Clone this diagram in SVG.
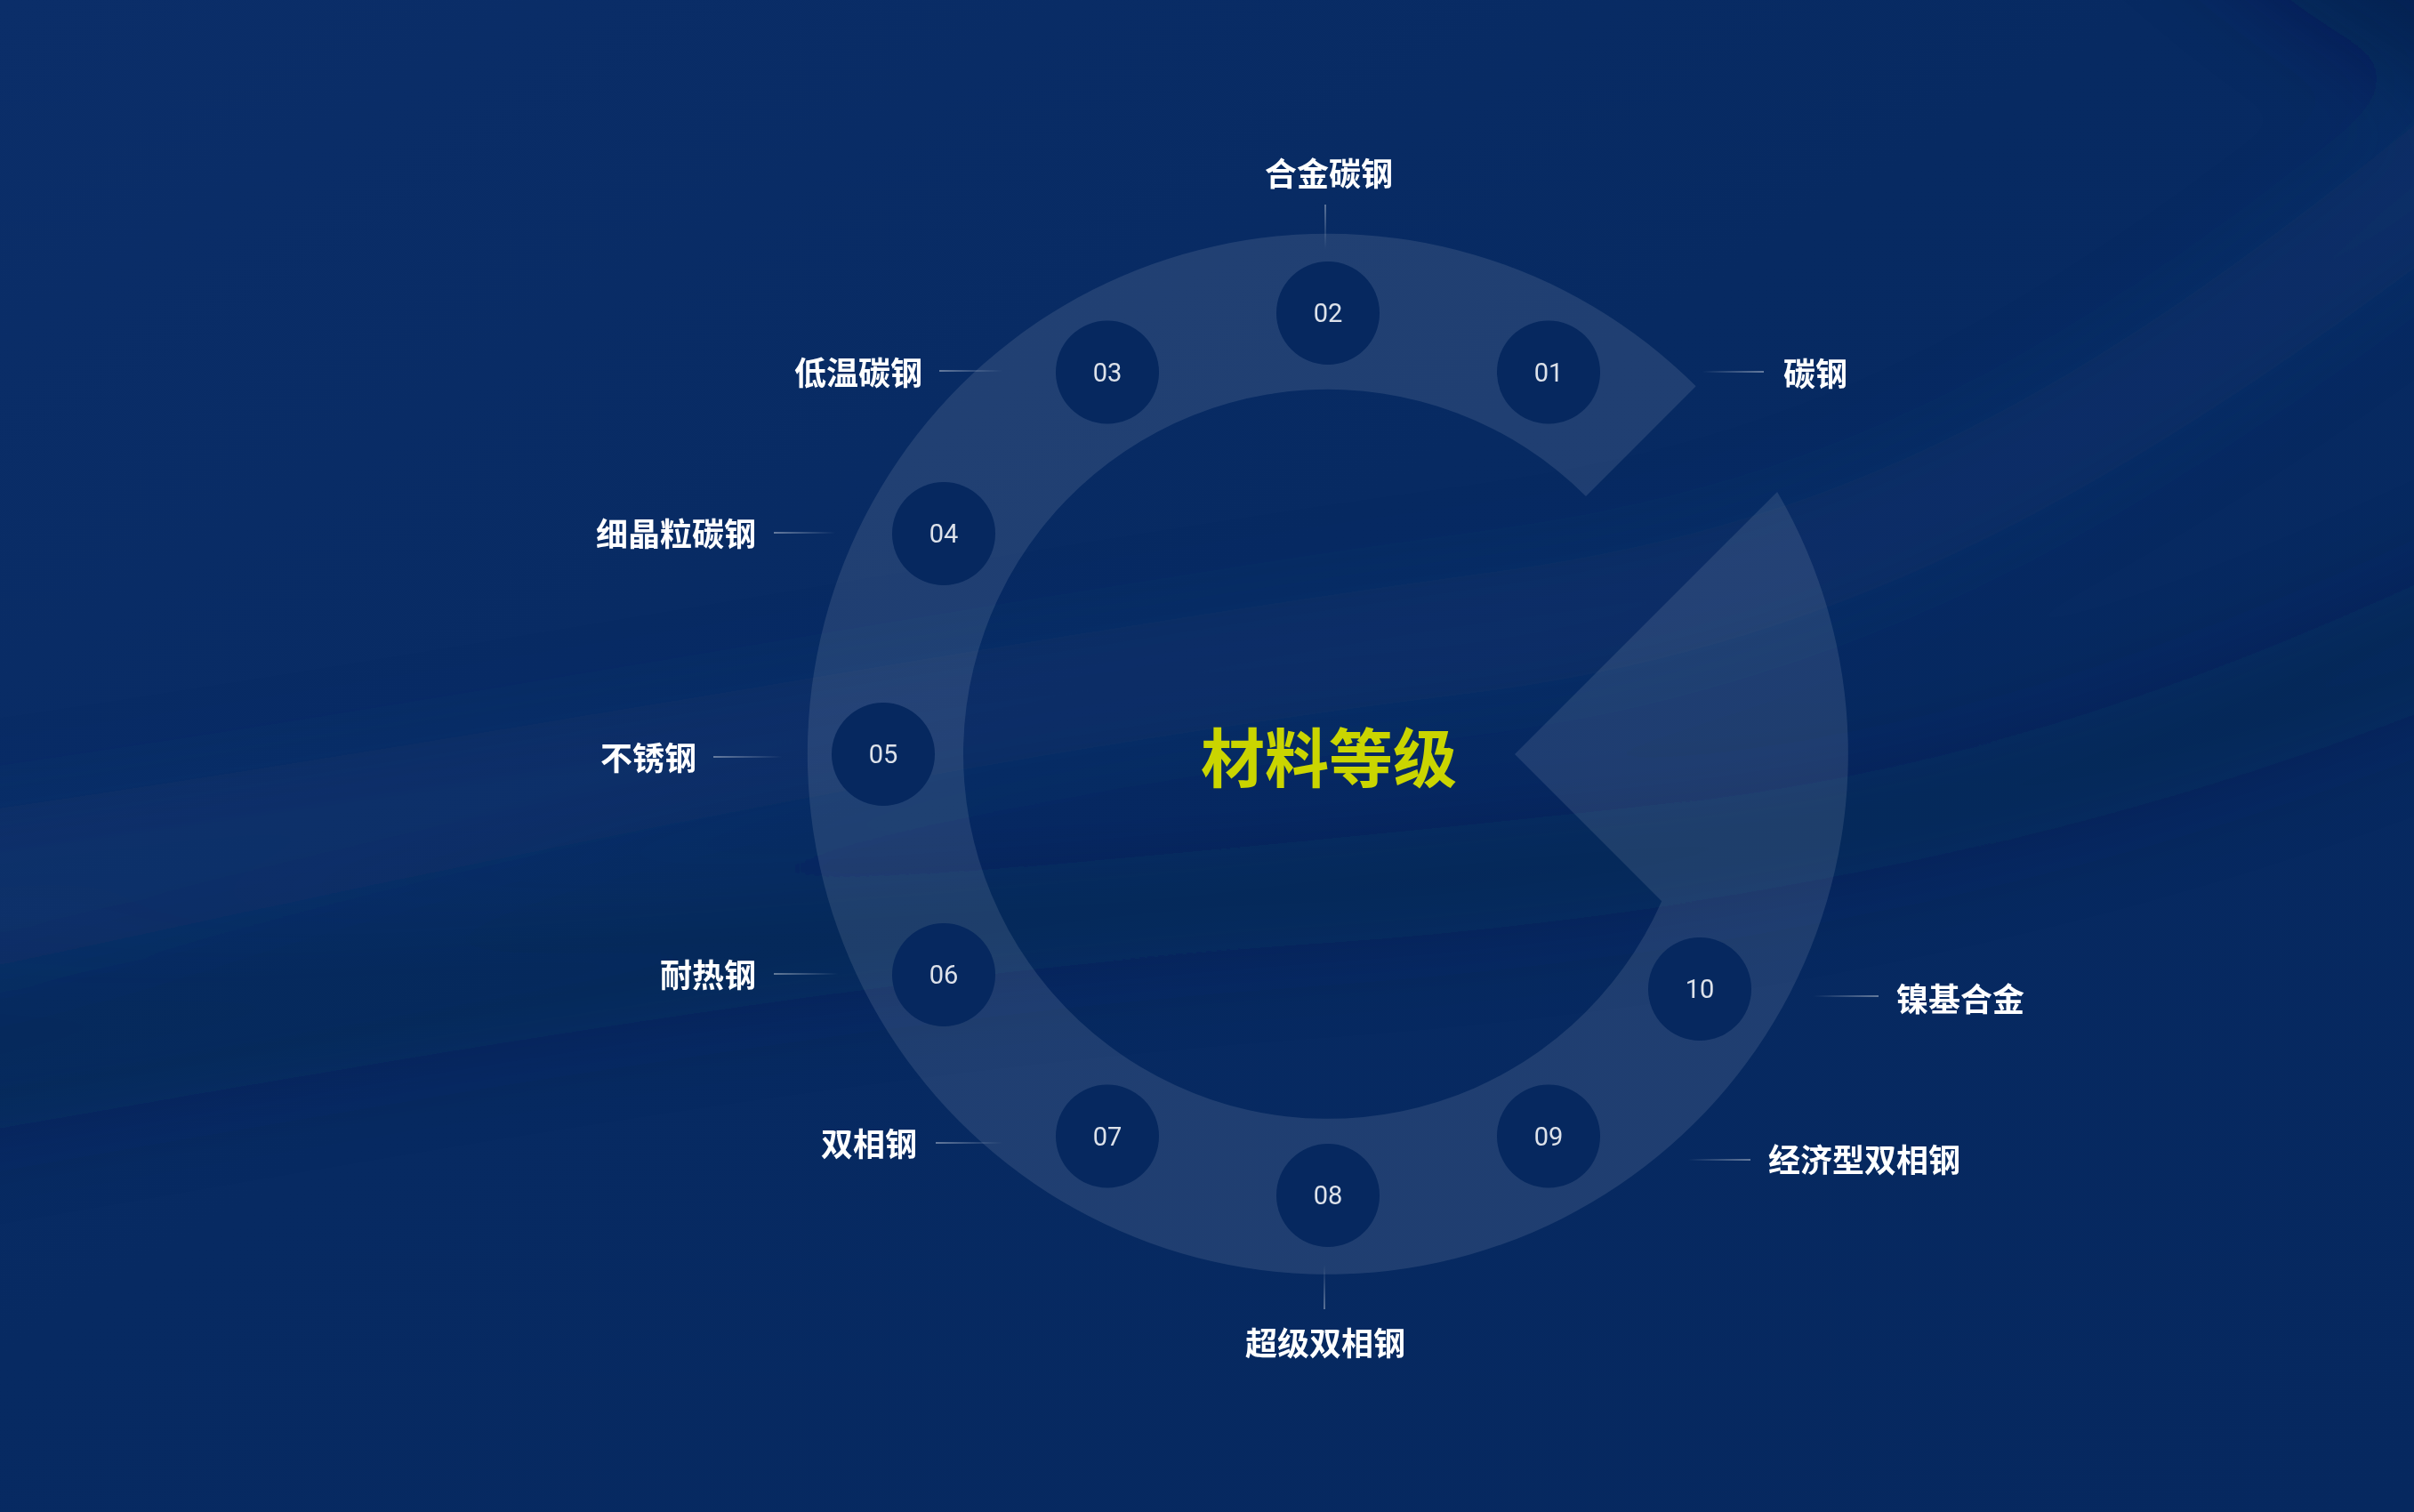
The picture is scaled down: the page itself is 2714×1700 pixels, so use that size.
<svg xmlns="http://www.w3.org/2000/svg" width="2714" height="1700" viewBox="0 0 2714 1700">
<defs>
  <linearGradient id="bg" x1="0" y1="0" x2="1" y2="1">
    <stop offset="0" stop-color="#0b2e69"/>
    <stop offset="0.45" stop-color="#072a62"/>
    <stop offset="1" stop-color="#06285f"/>
  </linearGradient>
  <filter id="blur" filterUnits="userSpaceOnUse" x="-400" y="-400" width="3514" height="2500"><feGaussianBlur stdDeviation="50"/></filter>
  <linearGradient id="fadeR" x1="0" y1="0" x2="1" y2="0">
    <stop offset="0" stop-color="#ffffff" stop-opacity="0"/>
    <stop offset="1" stop-color="#ffffff" stop-opacity="0.5"/>
  </linearGradient>
  <linearGradient id="fadeL" x1="0" y1="0" x2="1" y2="0">
    <stop offset="0" stop-color="#ffffff" stop-opacity="0.5"/>
    <stop offset="1" stop-color="#ffffff" stop-opacity="0"/>
  </linearGradient>
  <linearGradient id="fadeT" x1="0" y1="0" x2="0" y2="1">
    <stop offset="0" stop-color="#ffffff" stop-opacity="0.45"/>
    <stop offset="1" stop-color="#ffffff" stop-opacity="0"/>
  </linearGradient>
  <linearGradient id="fadeB" x1="0" y1="0" x2="0" y2="1">
    <stop offset="0" stop-color="#ffffff" stop-opacity="0"/>
    <stop offset="1" stop-color="#ffffff" stop-opacity="0.45"/>
  </linearGradient>
  <style>
    .ring { fill: #ffffff; fill-opacity: 0.1; }
    .node circle { fill: #06285f; }
    .num { font-family: Roboto, "Liberation Sans", sans-serif; font-size: 29px; fill: #dde2ea; text-anchor: middle; dominant-baseline: central; }
    .lbl { font-family: "Noto Sans CJK SC", "Noto Sans", sans-serif; font-size: 36px; font-weight: 700; fill: #ffffff; text-anchor: middle; dominant-baseline: central; }
    .title { font-family: "Noto Sans CJK SC", "Noto Sans", sans-serif; font-size: 72px; font-weight: 700; fill: #cad500; text-anchor: middle; dominant-baseline: central; }
  </style>
</defs>

<!-- background -->
<rect x="0" y="0" width="2714" height="1700" fill="url(#bg)"/>
<g id="background-swooshes" filter="url(#blur)">
  <path d="M-300 950 C 400 860, 1100 720, 1700 640 C 2200 570, 2500 330, 3000 -100 L 3000 80 C 2500 480, 2150 720, 1650 780 C 1000 860, 400 1000, -300 1150 Z" fill="#2a4f8c" opacity="0.14"/>
  <path d="M-300 1120 C 500 1020, 1200 980, 1900 900 C 2300 850, 2600 720, 3000 520 L 3000 680 C 2550 900, 2050 1020, 1500 1060 C 900 1100, 300 1220, -300 1320 Z" fill="#021a45" opacity="0.22"/>
  <path d="M2350 -200 C 2550 0, 2700 120, 3000 180 L 3000 -200 Z" fill="#021640" opacity="0.45"/>
</g>

<!-- ring (C shape with wedge) -->
<g id="ring">
  <path class="ring" d="M 1906.7 434.3 A 585 585 0 1 0 1998.1 552.9 L 1703 848 L 1868.2 1013.2 A 410 410 0 1 1 1783 558 Z"/>
</g>

<!-- connectors (leader lines) -->
<g id="connectors">
  <rect x="1489.25" y="230" width="1.5" height="50" fill="url(#fadeT)"/>
  <rect x="1913" y="417.25" width="70" height="1.5" fill="url(#fadeR)"/>
  <rect x="1056" y="416.25" width="71" height="1.5" fill="url(#fadeL)"/>
  <rect x="870" y="598.25" width="70" height="1.5" fill="url(#fadeL)"/>
  <rect x="802" y="850.25" width="78" height="1.5" fill="url(#fadeL)"/>
  <rect x="870" y="1094.25" width="73" height="1.5" fill="url(#fadeL)"/>
  <rect x="1052" y="1284.25" width="75" height="1.5" fill="url(#fadeL)"/>
  <rect x="1488.25" y="1422" width="1.5" height="50" fill="url(#fadeB)"/>
  <rect x="1897" y="1303.25" width="71" height="1.5" fill="url(#fadeR)"/>
  <rect x="2038" y="1119.25" width="74" height="1.5" fill="url(#fadeR)"/>
</g>

<!-- nodes -->
<g id="node-01" class="node"><circle cx="1741" cy="418.5" r="58"/><text class="num" x="1741" y="418.5">01</text><text class="lbl" x="2041" y="418">碳钢</text></g>
<g id="node-02" class="node"><circle cx="1493" cy="352" r="58"/><text class="num" x="1493" y="352">02</text><text class="lbl" x="1494" y="193">合金碳钢</text></g>
<g id="node-03" class="node"><circle cx="1245" cy="418.5" r="58"/><text class="num" x="1245" y="418.5">03</text><text class="lbl" x="965" y="417">低温碳钢</text></g>
<g id="node-04" class="node"><circle cx="1061" cy="600" r="58"/><text class="num" x="1061" y="600">04</text><text class="lbl" x="760" y="598">细晶粒碳钢</text></g>
<g id="node-05" class="node"><circle cx="993" cy="848" r="58"/><text class="num" x="993" y="848">05</text><text class="lbl" x="729" y="850">不锈钢</text></g>
<g id="node-06" class="node"><circle cx="1061" cy="1096" r="58"/><text class="num" x="1061" y="1096">06</text><text class="lbl" x="796" y="1094">耐热钢</text></g>
<g id="node-07" class="node"><circle cx="1245" cy="1277.5" r="58"/><text class="num" x="1245" y="1277.5">07</text><text class="lbl" x="977" y="1284">双相钢</text></g>
<g id="node-08" class="node"><circle cx="1493" cy="1344" r="58"/><text class="num" x="1493" y="1344">08</text><text class="lbl" x="1490" y="1508">超级双相钢</text></g>
<g id="node-09" class="node"><circle cx="1741" cy="1277.5" r="58"/><text class="num" x="1741" y="1277.5">09</text><text class="lbl" x="2096" y="1302">经济型双相钢</text></g>
<g id="node-10" class="node"><circle cx="1911" cy="1112" r="58"/><text class="num" x="1911" y="1112">10</text><text class="lbl" x="2204" y="1121">镍基合金</text></g>

<!-- center title -->
<g id="title"><text class="title" x="1494" y="847">材料等级</text></g>
</svg>
